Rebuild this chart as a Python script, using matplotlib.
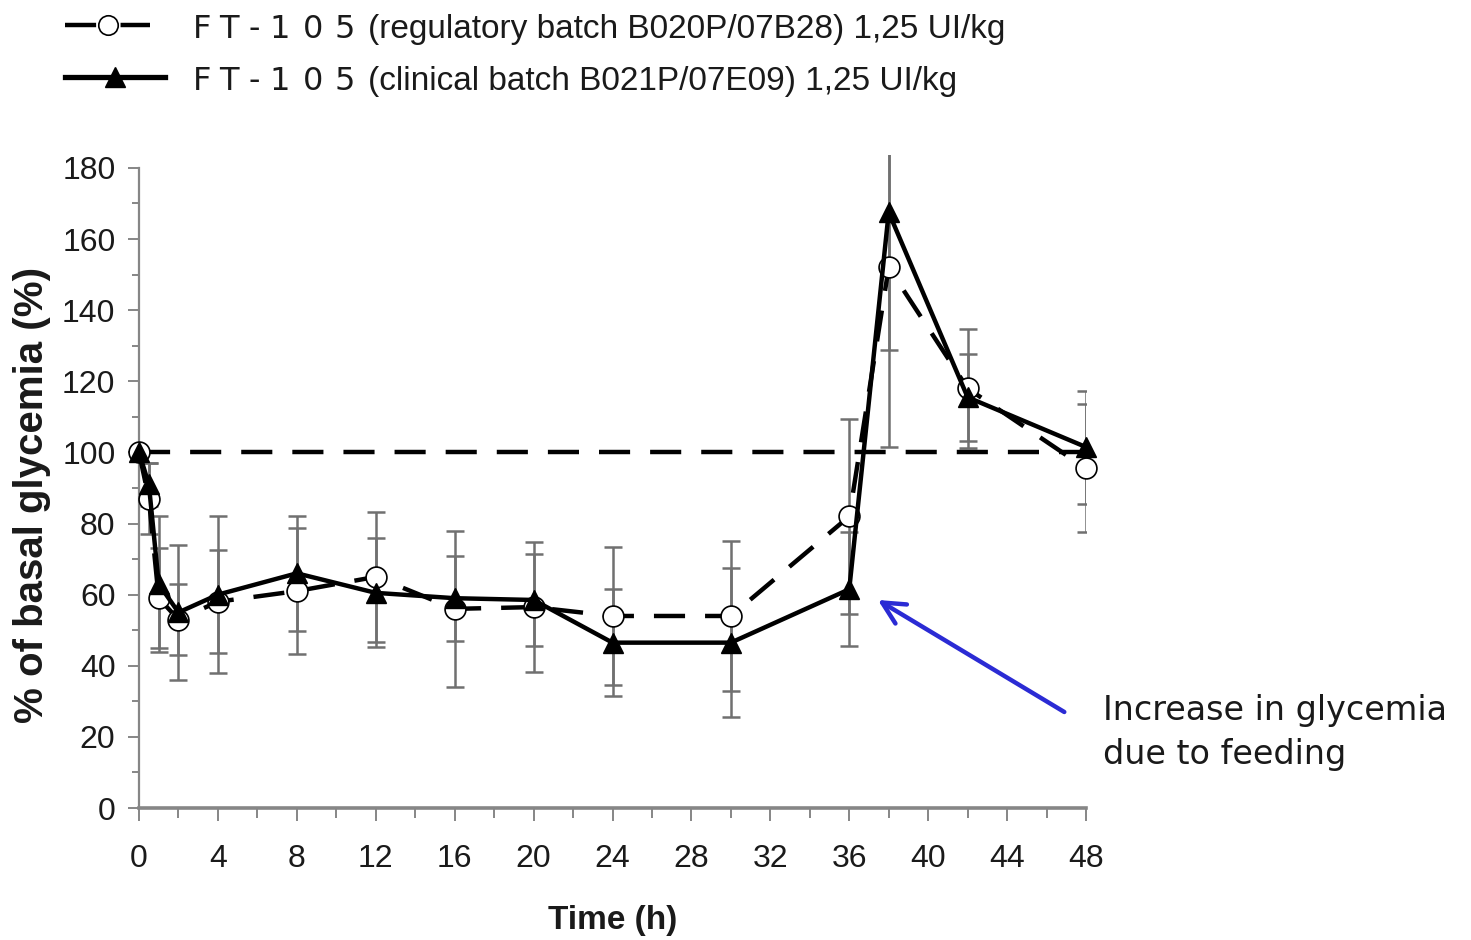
"""
Glycemia time course, FT-105 regulatory vs clinical batch.
Recreated as a single static figure -> out.png
"""

import matplotlib
matplotlib.use("Agg")
import matplotlib.pyplot as plt
from matplotlib.lines import Line2D
from matplotlib.ticker import MultipleLocator

# ── Data ─────────────────────────────────────────────────────────────────────
time_h    = [0, 0.5, 1, 2, 4, 8, 12, 16, 20, 24, 30, 36, 38, 42, 48]

reg_mean  = [100, 87, 59, 53, 58, 61, 65, 56, 56.5, 54, 54, 82, 152, 118, 95.5]
reg_sd    = [0, 10, 14, 10, 14.5, 17.7, 18.3, 22, 18.3, 19.5, 21, 27.5, 50.5, 16.7, 18]

clin_mean = [100, 91, 63, 55, 60, 66, 60.5, 59, 58.5, 46.5, 46.5, 61.5, 167.5, 115.5, 101.5]
clin_sd   = [0, 6, 19, 19, 22, 16.2, 15.3, 12, 12.9, 15, 21, 16, 38.6, 12.2, 15.9]

BASELINE = 100

product    = "FT-105"
reg_label  = "(regulatory batch B020P/07B28) 1,25 UI/kg"
clin_label = "(clinical batch B021P/07E09) 1,25 UI/kg"
note_lines = ["Increase in glycemia", "due to feeding"]

# ── Layout helpers (pixel -> figure fraction) ────────────────────────────────
W, H = 1471, 940
def fx(x): return x / W
def fy(y): return 1 - y / H

AX_GRAY = "#868686"
DASH    = (7, 4.5)
LW      = 3.2

fig = plt.figure(figsize=(W / 100, H / 100), dpi=100)
ax = fig.add_axes([fx(139), fy(808), (1086 - 139) / W, 183.7 * 3.556 / H])

# error bars first, underneath everything
for m, s in ((reg_mean, reg_sd), (clin_mean, clin_sd)):
    ax.errorbar(time_h, m, yerr=s, fmt="none", ecolor="#707070",
                elinewidth=1.8, capsize=6.8, capthick=1.8, zorder=1)

ax.hlines(BASELINE, time_h[0], time_h[-1], colors="black", lw=LW,
          linestyles=[(0, DASH)], zorder=2)

ax.plot(time_h, reg_mean, color="black", lw=LW, dashes=DASH,
        marker="o", ms=15, mfc="white", mec="black", mew=1.2,
        zorder=3, clip_on=False)
ax.plot(time_h, clin_mean, color="black", lw=LW, marker="^", ms=15,
        mfc="black", mec="black", zorder=4, clip_on=False)

# axes styling
ax.set_xlim(0, 48)
ax.set_ylim(0, 183.7)
for side in ("top", "right"):
    ax.spines[side].set_visible(False)
ax.spines["left"].set_bounds(0, 180)
ax.spines["left"].set_color(AX_GRAY)
ax.spines["left"].set_linewidth(1.6)
ax.spines["bottom"].set_color(AX_GRAY)
ax.spines["bottom"].set_linewidth(2.6)

ax.xaxis.set_major_locator(MultipleLocator(4))
ax.xaxis.set_minor_locator(MultipleLocator(2))
ax.yaxis.set_major_locator(MultipleLocator(20))
ax.yaxis.set_minor_locator(MultipleLocator(10))
ax.set_yticks(range(0, 181, 20))

ax.tick_params(axis="y", which="major", direction="out", length=8, width=1.4,
               color=AX_GRAY, pad=9, labelsize=23, labelcolor="#1a1a1a")
ax.tick_params(axis="y", which="minor", direction="out", length=5, width=1.4,
               color=AX_GRAY)
ax.tick_params(axis="x", which="major", direction="out", length=9, width=1.4,
               color=AX_GRAY, pad=17, labelsize=23, labelcolor="#1a1a1a")
ax.tick_params(axis="x", which="minor", direction="out", length=7, width=1.4,
               color=AX_GRAY)
for lab in ax.get_xticklabels() + ax.get_yticklabels():
    lab.set_fontfamily("Liberation Sans")

ax.set_xlabel("Time (h)", fontsize=24, fontweight="bold",
              fontfamily="Liberation Sans", labelpad=22, color="#1a1a1a")
fig.text(fx(32), fy(495), "% of basal glycemia (%)", rotation=90,
         ha="center", va="center", fontsize=29, fontweight="bold",
         fontfamily="Liberation Sans", color="#1a1a1a")

# feeding annotation
ax.annotate("", xy=(37.45, 58.5), xytext=(46.9, 27),
            arrowprops=dict(arrowstyle="->", color="#2b2bd4", lw=3.2,
                            mutation_scale=40, shrinkA=0, shrinkB=0),
            annotation_clip=False)
for txt, yb in zip(note_lines, (720, 764)):
    fig.text(fx(1103), fy(yb), txt, ha="left", va="baseline",
             fontsize=24, fontfamily="DejaVu Sans", color="#1a1a1a")

# ── Manual legend at the top ─────────────────────────────────────────────────
fig.add_artist(Line2D([fx(65), fx(150)], [fy(25), fy(25)], color="black",
                      lw=LW, dashes=(7, 5.5), transform=fig.transFigure))
fig.add_artist(Line2D([fx(107.5)], [fy(25)], marker="o", ms=14, mfc="white",
                      mec="black", mew=1.2, ls="none", transform=fig.transFigure))
fig.add_artist(Line2D([fx(65), fx(165)], [fy(77), fy(77)], color="black",
                      lw=LW + 0.6, transform=fig.transFigure))
fig.add_artist(Line2D([fx(115)], [fy(77)], marker="^", ms=15, mfc="black",
                      mec="black", ls="none", transform=fig.transFigure))

# product name is set letter-spaced in a wide face; place glyph by glyph
ft_centres = [202, 229, 254, 280, 313, 345]
for yb, lab in ((38, reg_label), (90, clin_label)):
    for ch, xc in zip(product, ft_centres):
        fig.text(fx(xc), fy(yb), ch, ha="center", va="baseline", fontsize=23,
                 fontfamily="DejaVu Sans", color="#1a1a1a")
    fig.text(fx(368), fy(yb), lab, ha="left", va="baseline", fontsize=24,
             fontfamily="Liberation Sans", color="#1a1a1a")

fig.savefig("out.png", dpi=100)
plt.close(fig)
